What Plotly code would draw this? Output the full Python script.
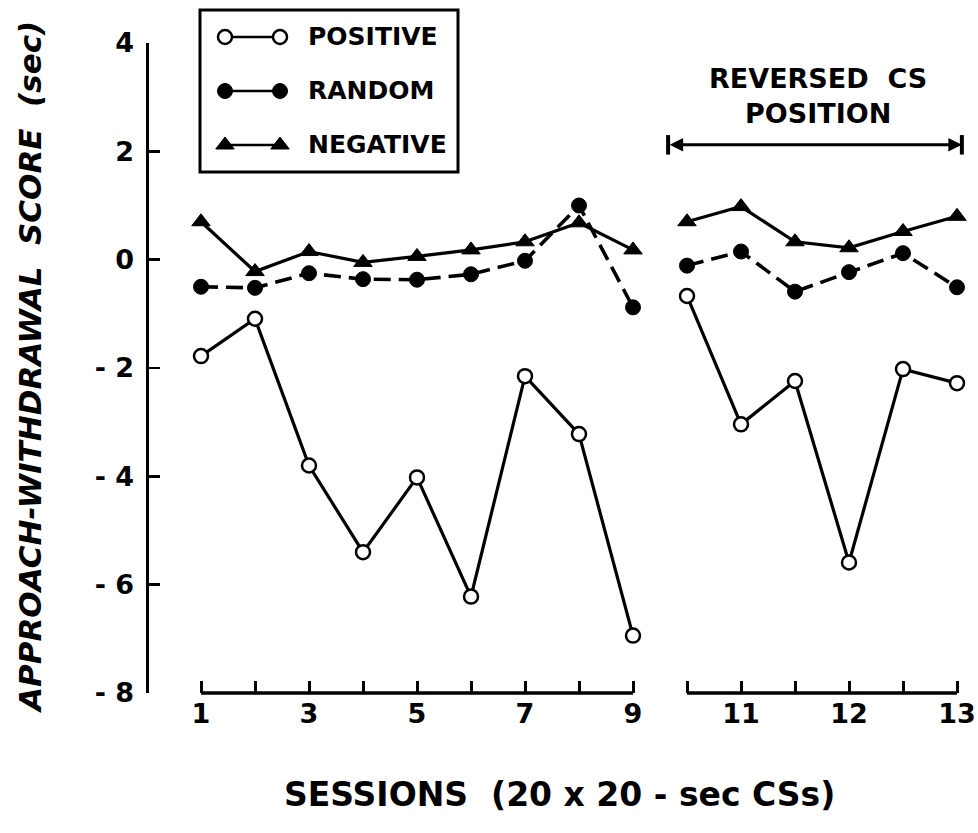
import plotly.graph_objects as go

# ---------------- data ----------------
sessions_a = [1, 2, 3, 4, 5, 6, 7, 8, 9]
sessions_b = [10, 11, 12, 13, 14, 15]
positive_a = [-1.78, -1.09, -3.80, -5.40, -4.02, -6.22, -2.15, -3.22, -6.94]
positive_b = [-0.67, -3.04, -2.24, -5.59, -2.02, -2.28]
random_a = [-0.50, -0.52, -0.25, -0.36, -0.37, -0.27, -0.02, 1.00, -0.88]
random_b = [-0.11, 0.15, -0.59, -0.23, 0.12, -0.51]
negative_a = [0.70, -0.22, 0.15, -0.05, 0.06, 0.18, 0.33, 0.68, 0.18]
negative_b = [0.70, 0.98, 0.33, 0.22, 0.52, 0.80]

x_tickvals = list(range(1, 16))
x_ticktext = ["1", "", "3", "", "5", "", "7", "", "9", "", "11", "", "12", "", "13"]
y_tickvals = [-8, -6, -4, -2, 0, 2, 4]
y_ticktext = ["- 8", "- 6", "- 4", "- 2", "0", "2", "4"]
legend_labels = ["POSITIVE", "RANDOM", "NEGATIVE"]
legend_rows = [2, 1, 0]
segments = [(sessions_a[0], sessions_a[-1]), (sessions_b[0], sessions_b[-1])]
reversed_span = (9.65, 15.09)
reversed_y = 2.12

FONT = "DejaVu Sans"
BLACK = "black"

styles = {
    "POSITIVE": dict(line=dict(color=BLACK, width=3.2),
                     marker=dict(symbol="circle", size=14, color="white",
                                 line=dict(color=BLACK, width=2.5))),
    "RANDOM": dict(line=dict(color=BLACK, width=3.6, dash="17px,8px"),
                   marker=dict(symbol="circle", size=15, color=BLACK,
                               line=dict(color=BLACK, width=1))),
    "NEGATIVE": dict(line=dict(color=BLACK, width=3.2),
                     marker=dict(symbol="triangle-up", size=16, color=BLACK,
                                 line=dict(color=BLACK, width=1))),
}
series = {
    "POSITIVE": (positive_a, positive_b),
    "RANDOM": (random_a, random_b),
    "NEGATIVE": (negative_a, negative_b),
}

fig = go.Figure()
for name in ["NEGATIVE", "RANDOM", "POSITIVE"]:
    ya, yb = series[name]
    for xs, ys in ((sessions_a, ya), (sessions_b, yb)):
        fig.add_trace(go.Scatter(x=xs, y=ys, mode="lines+markers", name=name,
                                 showlegend=False, cliponaxis=False,
                                 xaxis="x", yaxis="y", **styles[name]))

# custom legend samples drawn in a small hidden subplot
for label, row in zip(legend_labels, legend_rows):
    st = styles[label]
    ln = dict(st["line"])
    ln["dash"] = "solid"
    ln["width"] = 2.5
    fig.add_trace(go.Scatter(x=[0, 1], y=[row, row], mode="lines+markers",
                             line=ln, marker=st["marker"], showlegend=False,
                             cliponaxis=False, xaxis="x2", yaxis="y2"))

W, H = 978, 833
# plot area in page pixels
SX0, SX1, SY0, SY1 = 149, 972, 8, 693
L, R, T, B = SX0, W - SX1, SY0, H - SY1
pw, ph = SX1 - SX0, SY1 - SY0


def px_x(p):
    return (p - SX0) / pw


def px_y(p):
    return (SY1 - p) / ph


shapes = []
for x0, x1 in segments:
    shapes.append(dict(type="line", xref="x", yref="paper", x0=x0, x1=x1,
                       y0=0, y1=0, line=dict(color=BLACK, width=3.5)))
# legend box
shapes.append(dict(type="rect", xref="paper", yref="paper",
                   x0=px_x(200), x1=px_x(458), y0=px_y(172), y1=px_y(10),
                   line=dict(color=BLACK, width=3)))
# end caps of the reversed-CS bracket
for xe in reversed_span:
    shapes.append(dict(type="line", xref="x", yref="y", x0=xe, x1=xe,
                       y0=reversed_y - 0.18, y1=reversed_y + 0.18,
                       line=dict(color=BLACK, width=4)))

annotations = []
for label, row in zip(legend_labels, legend_rows):
    annotations.append(dict(xref="paper", yref="y2", x=px_x(306), y=row,
                            text=label, showarrow=False, xanchor="left",
                            yanchor="middle",
                            font=dict(family=FONT, size=25, color=BLACK, weight="bold")))
annotations.append(dict(xref="x", yref="y", x=12.42, y=3.02,
                        text="REVERSED\u00a0\u00a0CS<br>POSITION", showarrow=False,
                        align="center", xanchor="center", yanchor="middle",
                        font=dict(family=FONT, size=27, color=BLACK, weight="bold")))
annotations.append(dict(xref="x", yref="y", axref="x", ayref="y",
                        x=reversed_span[1], y=reversed_y,
                        ax=reversed_span[0], ay=reversed_y,
                        text="", showarrow=True, arrowside="end+start",
                        arrowhead=2, arrowsize=0.9, arrowwidth=3, arrowcolor=BLACK))
annotations.append(dict(xref="paper", yref="paper", x=px_x(559), y=px_y(795),
                        text="SESSIONS\u00a0\u00a0(20\u00a0x\u00a020\u00a0-\u00a0sec\u00a0CSs)",
                        showarrow=False, xanchor="center", yanchor="middle",
                        font=dict(family=FONT, size=33, color=BLACK, weight="bold")))
annotations.append(dict(xref="paper", yref="paper", x=px_x(30), y=px_y(368),
                        text="<i>APPROACH-WITHDRAWAL\u00a0\u00a0SCORE\u00a0\u00a0(sec)</i>",
                        showarrow=False, textangle=-90, xanchor="center", yanchor="middle",
                        font=dict(family=FONT, size=31, color=BLACK, weight="bold")))

x_lo = 1 - (201 - SX0) / 54.0
x_hi = 1 + (SX1 - 201) / 54.0

fig.update_layout(
    width=W, height=H,
    margin=dict(l=L, r=R, t=T, b=B, autoexpand=False),
    paper_bgcolor="white", plot_bgcolor="white",
    showlegend=False,
    font=dict(family=FONT, color=BLACK),
    xaxis=dict(domain=[0, 1], range=[x_lo, x_hi], showline=False, showgrid=False,
               zeroline=False, ticks="inside", ticklen=12, tickwidth=3,
               tickcolor=BLACK, tickvals=x_tickvals, ticktext=x_ticktext,
               ticklabelstandoff=2, automargin=False,
               tickfont=dict(family=FONT, size=27, color=BLACK, weight="bold")),
    yaxis=dict(domain=[0, px_y(43)], range=[-8, 4], showline=True, linewidth=3.5,
               linecolor=BLACK, showgrid=False, zeroline=False, ticks="inside",
               ticklen=11, tickwidth=2.5, tickcolor=BLACK, tickvals=y_tickvals,
               ticktext=y_ticktext, ticklabelstandoff=6, automargin=False,
               tickfont=dict(family=FONT, size=27, color=BLACK, weight="bold")),
    xaxis2=dict(domain=[px_x(225), px_x(280)], range=[0, 1], visible=False,
                anchor="y2"),
    yaxis2=dict(domain=[px_y(160), px_y(20)], range=[(145 - 160) / 54.0, (145 - 20) / 54.0],
                visible=False, anchor="x2"),
    shapes=shapes,
    annotations=annotations,
)

fig.write_html("out.html",
               config={"displayModeBar": False, "staticPlot": True},
               post_script="document.body.style.margin='0';document.body.style.overflow='hidden';")
